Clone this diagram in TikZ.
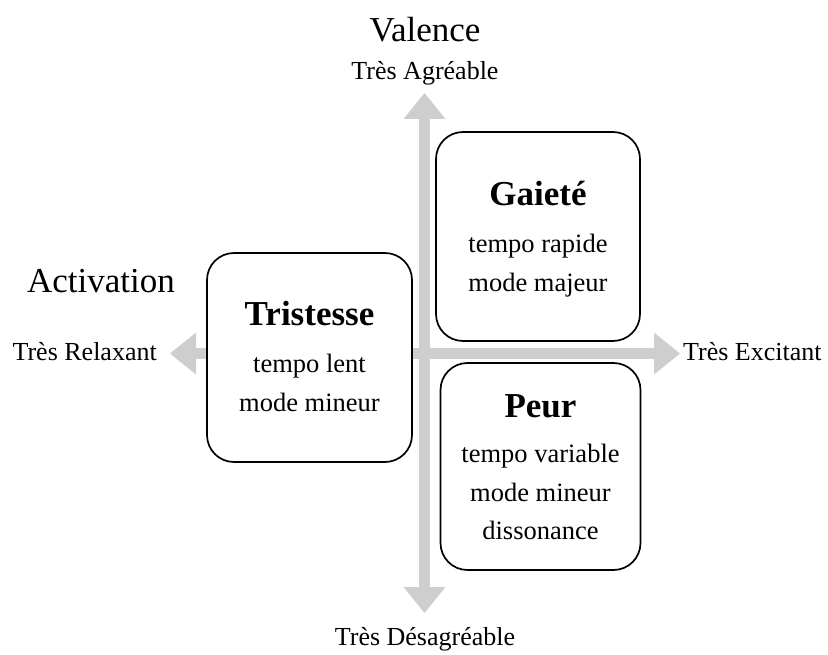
\documentclass[tikz,border=0pt]{standalone}
\usepackage{fontspec}
\setmainfont{Liberation Serif}
\usetikzlibrary{arrows.meta}
\definecolor{axisgray}{RGB}{206,206,206}
\begin{document}
\begin{tikzpicture}[x=1pt,y=-1pt,
  axis/.style={draw=axisgray,line width=10.5pt,
    {Triangle[length=26pt,width=42pt,line width=0pt]}-{Triangle[length=26pt,width=42pt,line width=0pt]}},
  box/.style={draw=black,line width=1.7pt,fill=white,rounded corners=27pt,inner sep=0pt},
  big/.style={font=\fontsize{35}{40}\selectfont,anchor=base,inner sep=0pt},
  lab/.style={font=\fontsize{26}{30}\selectfont,anchor=base,inner sep=0pt},
  ttl/.style={font=\fontsize{35}{40}\selectfont\bfseries,anchor=base,inner sep=0pt},
  body/.style={font=\fontsize{26.5}{30}\selectfont,anchor=base,inner sep=0pt}]
\useasboundingbox (0,0) rectangle (828,655);
% axes
\coordinate (L) at (170,353.5);
\coordinate (R) at (680,353.5);
\coordinate (T) at (424.5,93);
\coordinate (B) at (424.5,613);
\draw[axis] (L) -- (R);
\draw[axis] (B) -- (T);
% boxes
\node[box,minimum width=205pt,minimum height=209pt] (tri) at (309.5,357.5) {};
\node[box,minimum width=204pt,minimum height=209pt] (gai) at (538,236.5) {};
\node[box,minimum width=200pt,minimum height=207pt] (peu) at (540.5,466.5) {};
% box texts
\node[ttl]  (tri1) at (309.5,326) {Tristesse};
\node[body] (tri2) at (309.5,372) {tempo lent};
\node[body] (tri3) at (309.5,411) {mode mineur};
\node[ttl]  (gai1) at (538,206) {Gaieté};
\node[body] (gai2) at (538,253) {tempo rapide};
\node[body] (gai3) at (538,292) {mode majeur};
\node[ttl]  (peu1) at (540.5,417) {Peur};
\node[body] (peu2) at (540.5,462) {tempo variable};
\node[body] (peu3) at (540.5,501) {mode mineur};
\node[body] (peu4) at (540.5,539) {dissonance};
% axis labels
\node[big] (val) at (425,42) {Valence};
\node[lab] (agr) at (425,80) {Très Agréable};
\node[lab] (des) at (425,645) {Très Désagréable};
\node[big] (act) at (101,293) {Activation};
\node[lab,anchor=base east] (rel) at (157,360) {Très Relaxant};
\node[lab,anchor=base west] (exc) at (683,360) {Très Excitant};
\end{tikzpicture}
\end{document}
